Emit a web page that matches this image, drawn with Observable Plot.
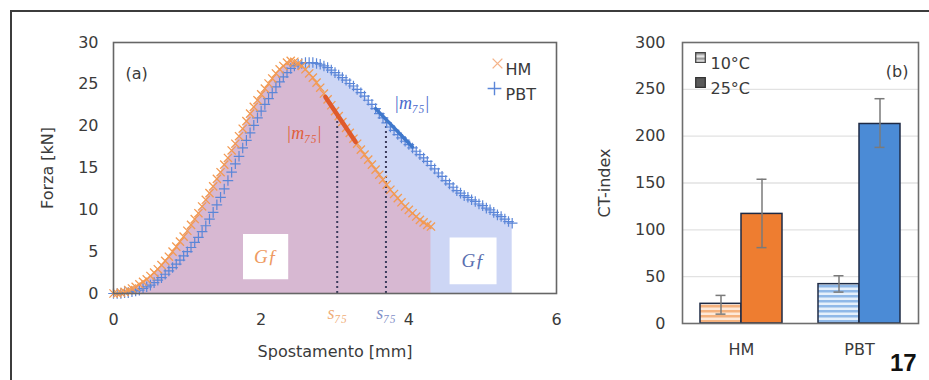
<!DOCTYPE html>
<html><head><meta charset="utf-8">
<script src="https://cdn.jsdelivr.net/npm/d3@7"></script>
<script src="https://cdn.jsdelivr.net/npm/@observablehq/plot@0.6"></script>
<style>
html,body{margin:0;padding:0;background:#fff;}
#wrap{position:relative;width:929px;height:380px;overflow:hidden;background:#fff;}
#border{position:absolute;left:10px;top:10px;width:940px;height:400px;border-top:2px solid #3c3c3c;border-left:2px solid #3c3c3c;}
#a{position:absolute;left:0;top:0;}
#b{position:absolute;left:560px;top:0;}
#pg{position:absolute;left:890px;top:349px;font:bold 24px "Liberation Sans",Arial,sans-serif;color:#111;line-height:28px;}
</style></head><body>
<div id="wrap"><div id="border"></div><div id="a"></div><div id="b"></div><div id="pg">17</div></div>
<script>
// ---- Panel (a) data: force vs displacement ----
const hmDisp = [0,0.05,0.1,0.15,0.2,0.25,0.3,0.35,0.4,0.45,0.5,0.55,0.6,0.65,0.7,0.75,0.8,0.85,0.9,0.95,1.0,1.05,1.1,1.15,1.2,1.25,1.3,1.35,1.4,1.45,1.5,1.55,1.6,1.65,1.7,1.75,1.8,1.85,1.9,1.95,2.0,2.05,2.1,2.15,2.2,2.25,2.3,2.35,2.4,2.45,2.5,2.55,2.6,2.65,2.7,2.75,2.8,2.85,2.9,2.95,3.0,3.05,3.1,3.15,3.2,3.25,3.3,3.35,3.4,3.45,3.5,3.55,3.6,3.65,3.7,3.75,3.8,3.85,3.9,3.95,4.0,4.05,4.1,4.15,4.2,4.25,4.3];
const hmForce = [0.0,0.0,0.1,0.2,0.4,0.6,0.8,1.1,1.4,1.7,2.1,2.5,2.9,3.4,3.9,4.4,5.0,5.6,6.2,6.8,7.5,8.2,8.9,9.6,10.4,11.2,12.0,12.8,13.7,14.5,15.4,16.2,17.1,17.9,18.8,19.7,20.6,21.5,22.3,23.1,23.8,24.5,25.1,25.7,26.3,26.8,27.2,27.6,27.8,27.7,27.5,27.2,26.8,26.3,25.8,25.2,24.6,23.9,23.2,22.5,21.8,21.2,20.5,19.8,19.2,18.5,17.9,17.2,16.6,16.0,15.4,14.8,14.2,13.6,13.0,12.4,11.9,11.4,10.9,10.4,10.0,9.6,9.2,8.8,8.5,8.2,8.0];
const pbtDisp = [0,0.05,0.1,0.15,0.2,0.25,0.3,0.35,0.4,0.45,0.5,0.55,0.6,0.65,0.7,0.75,0.8,0.85,0.9,0.95,1.0,1.05,1.1,1.15,1.2,1.25,1.3,1.35,1.4,1.45,1.5,1.55,1.6,1.65,1.7,1.75,1.8,1.85,1.9,1.95,2.0,2.05,2.1,2.15,2.2,2.25,2.3,2.35,2.4,2.45,2.5,2.55,2.6,2.65,2.7,2.75,2.8,2.85,2.9,2.95,3.0,3.05,3.1,3.15,3.2,3.25,3.3,3.35,3.4,3.45,3.5,3.55,3.6,3.65,3.7,3.75,3.8,3.85,3.9,3.95,4.0,4.05,4.1,4.15,4.2,4.25,4.3,4.35,4.4,4.45,4.5,4.55,4.6,4.65,4.7,4.75,4.8,4.85,4.9,4.95,5.0,5.05,5.1,5.15,5.2,5.25,5.3,5.35,5.4];
const pbtForce = [0.0,0.0,0.0,0.1,0.1,0.2,0.3,0.4,0.6,0.8,1.0,1.3,1.6,1.9,2.3,2.7,3.1,3.5,4.0,4.5,5.0,5.5,6.1,6.7,7.4,8.1,8.9,9.7,10.6,11.5,12.5,13.5,14.5,15.5,16.4,17.4,18.3,19.2,20.1,21.0,21.8,22.6,23.3,24.0,24.7,25.3,25.9,26.4,26.9,27.2,27.4,27.5,27.6,27.6,27.6,27.5,27.4,27.2,27.0,26.7,26.4,26.1,25.8,25.5,25.1,24.8,24.4,24.0,23.6,23.1,22.6,22.1,21.5,21.0,20.4,19.9,19.5,19.0,18.6,18.2,17.8,17.4,17.0,16.6,16.2,15.8,15.3,14.9,14.4,14.0,13.5,13.1,12.7,12.3,12.0,11.7,11.5,11.2,11.0,10.7,10.5,10.2,10.0,9.7,9.4,9.2,8.9,8.6,8.4];
// m75 slope segments (start, end)
const hmM75Disp = [2.87, 3.28];
const hmM75Force = [23.5, 18.1];
const pbtM75Disp = [3.55, 4.05];
const pbtM75Force = [22.1, 17.5];
// s75 displacements (HM, PBT) and force reached there
const s75Disp = [3.03, 3.69];
const s75Force = [21.4, 20.5];
// annotation anchors (HM, PBT)
const m75LabelDisp = [2.58, 4.04];
const m75LabelForce = [19.2, 22.7];
const gfDisp = [2.06, 4.87];
const gfForce = [4.4, 3.9];
const seriesNames = ["HM", "PBT"];
const xTicksA = [0, 2, 4, 6];
const yTicksA = [0, 5, 10, 15, 20, 25, 30];

// ---- Panel (b) data: CT-index ----
const ctCats = ["HM", "PBT"];
const tempLabels = ["10°C", "25°C"];
const ct10 = [21, 42];
const ct10Lo = [10, 33.5];
const ct10Hi = [30, 51];
const ct25 = [117, 213];
const ct25Lo = [81, 188];
const ct25Hi = [154, 240];
const yTicksB = [0, 50, 100, 150, 200, 250, 300];
const gridB = [50, 100, 150, 200, 250];

// ---- styles ----
const HMC = "#f39a52", PBTC = "#5b86d8";
const pts = (xs, ys) => xs.map((x, i) => ({x, y: ys[i]}));
const hm = pts(hmDisp, hmForce), pbt = pts(pbtDisp, pbtForce);
const baseStyle = {fontSize: "16px", fontFamily: "'DejaVu Sans', Verdana, sans-serif", color: "#3a3a3a", background: "transparent", overflow: "visible"};
const serif = "'Liberation Serif', 'DejaVu Serif', serif";

const A = Plot.plot({
  width: 600, height: 380,
  marginLeft: 113, marginRight: 44, marginTop: 42, marginBottom: 87,
  style: baseStyle,
  x: {domain: [0, 6], ticks: xTicksA, tickFormat: d => String(d), tickSize: 0, tickPadding: 20, label: "Spostamento [mm]", labelAnchor: "center", labelOffset: 63, labelArrow: "none"},
  y: {domain: [0, 30], ticks: yTicksA, tickFormat: d => String(d), tickSize: 0, tickPadding: 15, label: "Forza [kN]", labelAnchor: "center", labelOffset: 72, labelArrow: "none"},
  marks: [
    Plot.areaY(pbt, {x: "x", y: "y", fill: "#cdd6f5"}),
    Plot.areaY(hm, {x: "x", y: "y", fill: "#d7b8d2"}),
    Plot.dot([0], {x: () => gfDisp[0], y: () => gfForce[0], symbol: "square", r: 25.5, fill: "white"}),
    Plot.dot([1], {x: () => gfDisp[1], y: () => gfForce[1], symbol: "square", r: 26.5, fill: "white"}),
    Plot.text([0], {x: () => gfDisp[0], y: () => gfForce[0], text: () => "Gƒ", fill: "#ee9a62", fontSize: 19, fontStyle: "italic", fontFamily: serif}),
    Plot.text([1], {x: () => gfDisp[1], y: () => gfForce[1], text: () => "Gƒ", fill: "#5a6fb0", fontSize: 19, fontStyle: "italic", fontFamily: serif}),
    Plot.ruleX([0, 1], {x: i => s75Disp[i], y1: 0, y2: i => s75Force[i], stroke: "#3c3c5c", strokeWidth: 2, strokeDasharray: "2,3"}),
    Plot.dot(pbt, {x: "x", y: "y", symbol: "plus", stroke: PBTC, r: 3.5, strokeWidth: 1.2}),
    Plot.dot(hm, {x: "x", y: "y", symbol: "times", stroke: HMC, r: 3.8, strokeWidth: 1.3}),
    Plot.line(pts(hmM75Disp, hmM75Force), {x: "x", y: "y", stroke: "#df5a2c", strokeWidth: 4.5}),
    Plot.line(pts(pbtM75Disp, pbtM75Force), {x: "x", y: "y", stroke: "#3f78cc", strokeWidth: 3.5}),
    Plot.text([0], {x: () => m75LabelDisp[0], y: () => m75LabelForce[0], text: () => "|m₇₅|", fill: "#e0603a", fontSize: 18, fontStyle: "italic", fontFamily: serif}),
    Plot.text([1], {x: () => m75LabelDisp[1], y: () => m75LabelForce[1], text: () => "|m₇₅|", fill: "#4a68cc", fontSize: 18, fontStyle: "italic", fontFamily: serif}),
    Plot.text([0], {x: () => s75Disp[0], frameAnchor: "bottom", dy: 25, text: () => "s₇₅", fill: "#f0ad78", fontSize: 18, fontStyle: "italic", fontFamily: serif}),
    Plot.text([1], {x: () => s75Disp[1], frameAnchor: "bottom", dy: 25, text: () => "s₇₅", fill: "#7f8fc8", fontSize: 18, fontStyle: "italic", fontFamily: serif}),
    Plot.frame({stroke: "#666", strokeWidth: 1.6}),
    Plot.text(["(a)"], {frameAnchor: "top-left", dx: 12, dy: 25, text: d => d, textAnchor: "start", fill: "#3a3a3a"}),
    Plot.dot([0], {frameAnchor: "top-right", dx: -59, dy: 21, symbol: "times", stroke: "#f5b48a", r: 4.5, strokeWidth: 1.4}),
    Plot.dot([1], {frameAnchor: "top-right", dx: -62, dy: 46, symbol: "plus", stroke: PBTC, r: 4.5, strokeWidth: 1.4}),
    Plot.text([seriesNames[0]], {frameAnchor: "top-right", dx: -51, dy: 21, text: d => d, textAnchor: "start", fill: "#3a3a3a"}),
    Plot.text([seriesNames[1]], {frameAnchor: "top-right", dx: -51, dy: 46, text: d => d, textAnchor: "start", fill: "#3a3a3a"})
  ]
});
document.getElementById("a").append(A);

// ---- Panel (b) ----
const BW = 82, HALF = 41, CAP = 5;
const rows = ctCats.map((c, i) => ({c, v10: ct10[i], lo10: ct10Lo[i], hi10: ct10Hi[i], v25: ct25[i], lo25: ct25Lo[i], hi25: ct25Hi[i]}));
const stripeFill = ["url(#stripeHM)", "url(#stripePBT)"];
const solidFill = ["#ee7d30", "#4b8bd6"];
const barStroke = "#1e2a44";
const errC = "#7a7a7a";
const marksB = [Plot.ruleY(gridB, {stroke: "#e2e2e2", strokeWidth: 1.3})];
rows.forEach((r, i) => {
  marksB.push(Plot.barY([r], {x: "c", y: "v10", fill: stripeFill[i], stroke: barStroke, strokeWidth: 1.5, insetRight: HALF}));
  marksB.push(Plot.barY([r], {x: "c", y: "v25", fill: solidFill[i], stroke: barStroke, strokeWidth: 1.5, insetLeft: HALF}));
});
marksB.push(
  Plot.ruleX(rows, {x: "c", y1: "lo10", y2: "hi10", dx: -HALF / 2, stroke: errC, strokeWidth: 1.5}),
  Plot.ruleX(rows, {x: "c", y1: "lo25", y2: "hi25", dx: HALF / 2, stroke: errC, strokeWidth: 1.5}),
  Plot.tickY(rows, {x: "c", y: "lo10", insetLeft: HALF / 2 - CAP, insetRight: BW - HALF / 2 - CAP, stroke: errC, strokeWidth: 1.5}),
  Plot.tickY(rows, {x: "c", y: "hi10", insetLeft: HALF / 2 - CAP, insetRight: BW - HALF / 2 - CAP, stroke: errC, strokeWidth: 1.5}),
  Plot.tickY(rows, {x: "c", y: "lo25", insetLeft: HALF * 1.5 - CAP, insetRight: HALF / 2 - CAP, stroke: errC, strokeWidth: 1.5}),
  Plot.tickY(rows, {x: "c", y: "hi25", insetLeft: HALF * 1.5 - CAP, insetRight: HALF / 2 - CAP, stroke: errC, strokeWidth: 1.5}),
  Plot.frame({stroke: "#6e6e6e", strokeWidth: 1.6}),
  Plot.text(["(b)"], {frameAnchor: "top-right", dx: -10, dy: 23, text: d => d, textAnchor: "end", fill: "#3a3a3a"}),
  Plot.dot([0], {frameAnchor: "top-left", dx: 18, dy: 15, symbol: "square", r: 5.4, fill: "url(#stripeLeg)", stroke: "#444", strokeWidth: 1.3}),
  Plot.dot([1], {frameAnchor: "top-left", dx: 18, dy: 40, symbol: "square", r: 5.4, fill: "#5a5a5a", stroke: "#333", strokeWidth: 1.3}),
  Plot.text([tempLabels[0]], {frameAnchor: "top-left", dx: 28, dy: 15, text: d => d, textAnchor: "start", fill: "#3a3a3a"}),
  Plot.text([tempLabels[1]], {frameAnchor: "top-left", dx: 28, dy: 40, text: d => d, textAnchor: "start", fill: "#3a3a3a"})
);
const B = Plot.plot({
  width: 369, height: 380,
  marginLeft: 122, marginRight: 11, marginTop: 42, marginBottom: 57,
  style: baseStyle,
  x: {domain: ctCats, paddingInner: 0.305, paddingOuter: 0.1525, tickSize: 0, tickPadding: 20, label: null},
  y: {domain: [0, 300], ticks: yTicksB, tickFormat: d => String(d), tickSize: 0, tickPadding: 17, label: "CT-index", labelAnchor: "center", labelOffset: 84, labelArrow: "none"},
  marks: marksB
});
const defs = d3.select(B).insert("defs", ":first-child");
function stripes(id, color, bg) {
  const p = defs.append("pattern").attr("id", id).attr("patternUnits", "userSpaceOnUse").attr("width", 6).attr("height", 5);
  p.append("rect").attr("width", 6).attr("height", 5).attr("fill", bg);
  p.append("rect").attr("width", 6).attr("height", 2.5).attr("fill", color);
}
stripes("stripeHM", "#f5b27e", "#fde9d9");
stripes("stripePBT", "#8fb8e8", "#e6f0fb");
stripes("stripeLeg", "#9a9a9a", "#e8e8e8");
document.getElementById("b").append(B);
</script>
</body></html>
